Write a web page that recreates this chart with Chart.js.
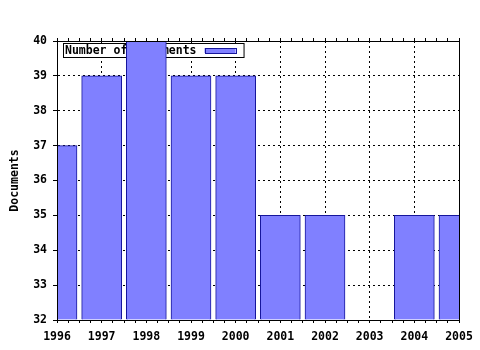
<!DOCTYPE html>
<html>
<head>
<meta charset="utf-8">
<script src="https://cdn.jsdelivr.net/npm/chart.js@4/dist/chart.umd.min.js"></script>
<style>
    html, body { margin: 0; padding: 0; background: #fff; }
</style>
</head>
<body>
<canvas id="docsChart" width="480" height="350"></canvas>
<script>
const YEARS = [1996, 1997, 1998, 1999, 2000, 2001, 2002, 2003, 2004, 2005];
const DOCUMENTS = [37, 39, 40, 39, 39, 35, 35, null, 35, 35]; // 2003 has no bar
const Y_TICKS = [32, 33, 34, 35, 36, 37, 38, 39, 40];
const SERIES_LABEL = 'Number of Documents';

const FONT = { family: "'DejaVu Sans Mono', monospace", size: 11.5, weight: 'bold' };
const isYear = v => Math.abs(v - Math.round(v)) < 1e-6;

// legend box sits inside the plot, drawn under the bars (like the original)
const boxLegend = {
    id: 'boxLegend',
    beforeDatasetsDraw(chart) {
        const { ctx, chartArea } = chart;
        const ds = chart.data.datasets[0];
        ctx.save();
        ctx.font = `${FONT.weight} ${FONT.size}px ${FONT.family}`;
        const x = chartArea.left + 6, y = chartArea.top + 2, h = 14;
        const textX = x + 2;
        const textW = ctx.measureText(ds.label).width;
        const swX = textX + textW + 8;
        const w = swX + 31 + 8 - x;

        ctx.fillStyle = '#fff';
        ctx.fillRect(x, y, w, h);
        ctx.strokeStyle = '#000';
        ctx.lineWidth = 1;
        ctx.strokeRect(x + 0.5, y + 0.5, w, h);

        ctx.fillStyle = '#000';
        ctx.textBaseline = 'middle';
        ctx.fillText(ds.label, textX, y + h / 2 + 1);

        ctx.fillStyle = ds.backgroundColor;
        ctx.fillRect(swX, y + 5, 31, 5);
        ctx.strokeStyle = ds.borderColor;
        ctx.strokeRect(Math.round(swX) + 0.5, y + 5.5, 31, 5);
        ctx.restore();
    }
};

document.addEventListener('DOMContentLoaded', () => {
    Chart.defaults.font.family = FONT.family;
    Chart.defaults.font.size = FONT.size;
    Chart.defaults.font.weight = FONT.weight;
    Chart.defaults.color = '#000';

    const ctx = document.getElementById('docsChart').getContext('2d');
    new Chart(ctx, {
        type: 'bar',
        data: {
            datasets: [{
                label: SERIES_LABEL,
                data: YEARS.map((yr, i) => ({ x: yr, y: DOCUMENTS[i] })),
                backgroundColor: '#8080ff',
                borderColor: '#16169c',
                borderWidth: 1,
                barThickness: 40,
                base: Y_TICKS[0],
                clip: 0
            }]
        },
        plugins: [boxLegend],
        options: {
            responsive: false,
            animation: false,
            layout: { padding: { top: 38, right: 21, left: 0, bottom: 0 } },
            plugins: {
                legend: { display: false },
                tooltip: { enabled: false }
            },
            scales: {
                x: {
                    type: 'linear',
                    position: 'bottom',
                    offset: false,
                    min: YEARS[0],
                    max: YEARS[YEARS.length - 1],
                    afterFit: s => { s.height = 30; },
                    ticks: {
                        stepSize: 0.25,
                        autoSkip: false,
                        maxRotation: 0,
                        padding: 7,
                        callback: v => isYear(v) ? String(Math.round(v)) : ''
                    },
                    grid: {
                        offset: false,
                        // dotted grid only on whole years, minor marks keep their ticks
                        color: c => (c.tick && !isYear(c.tick.value)) ? 'rgba(0,0,0,0)' : '#000',
                        tickColor: '#000',
                        tickLength: 3,
                        tickBorderDash: []
                    },
                    border: { display: true, color: '#000', dash: [2, 3], z: 1 }
                },
                x2: {
                    type: 'linear',
                    position: 'top',
                    offset: false,
                    min: YEARS[0],
                    max: YEARS[YEARS.length - 1],
                    afterFit: s => { s.height = 3; },
                    ticks: { display: false, stepSize: 0.25, autoSkip: false },
                    grid: {
                        offset: false,
                        drawOnChartArea: false,
                        tickColor: '#000',
                        tickLength: 3,
                        tickBorderDash: []
                    },
                    border: { display: true, color: '#000', z: 1 }
                },
                y: {
                    min: Y_TICKS[0],
                    max: Y_TICKS[Y_TICKS.length - 1],
                    afterFit: s => { s.width = 57; },
                    ticks: { stepSize: 1, padding: 6 },
                    grid: {
                        color: '#000',
                        tickColor: '#000',
                        tickLength: 4,
                        tickBorderDash: []
                    },
                    border: { display: true, color: '#000', dash: [2, 3], z: 1 },
                    title: {
                        display: true,
                        text: 'Documents',
                        padding: { top: 8, bottom: 0 }
                    }
                },
                y2: {
                    position: 'right',
                    min: Y_TICKS[0],
                    max: Y_TICKS[Y_TICKS.length - 1],
                    afterFit: s => { s.width = 0; },
                    ticks: { display: false },
                    grid: { drawOnChartArea: false, drawTicks: false },
                    border: { display: true, color: '#000', z: 1 }
                }
            }
        }
    });
});
</script>
</body>
</html>
